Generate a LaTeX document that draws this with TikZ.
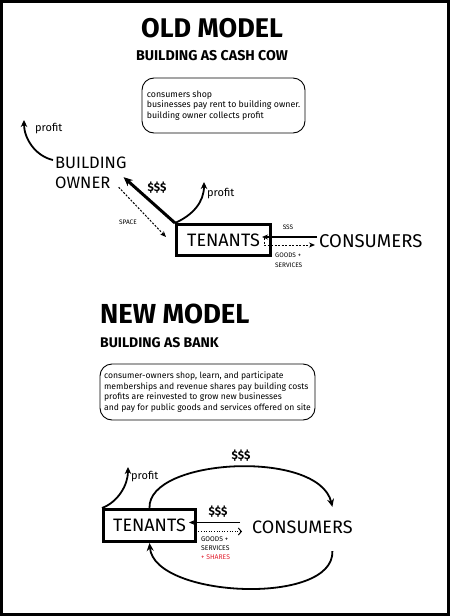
\documentclass[tikz,border=0pt]{standalone}
\usepackage{fontspec}
\setmainfont{Fira Sans}
\usetikzlibrary{arrows.meta}
\definecolor{sharered}{RGB}{225,30,45}
\newcommand{\fsz}[2]{\fontsize{#1}{#2}\selectfont}
\begin{document}
\begin{tikzpicture}[x=1pt,y=-1pt,
  titlestyle/.style={inner sep=0pt, font=\bfseries\fsz{27}{30}},
  substyle/.style={inner sep=0pt, font=\bfseries\fsz{14.2}{16}},
  notebox/.style={draw, rounded corners=12pt, line width=0.9pt, align=left, inner sep=0pt},
  bigtext/.style={inner sep=0pt, font=\fsz{16.5}{20}},
  tenbox/.style={draw, line width=2.6pt, inner sep=0pt, font=\fsz{18}{20}},
  consstyle/.style={inner sep=0pt, font=\fsz{18.5}{20}},
  profitstyle/.style={inner sep=0pt, font=\fsz{11}{12}},
  money/.style={inner sep=0pt, font=\bfseries\fsz{11.5}{13}},
  tinytext/.style={inner sep=0pt, font=\fsz{6.5}{10}},
  curvearrow/.style={line width=1.8pt, -{Stealth[length=7pt,width=6.5pt]}},
  thickarrow/.style={line width=3pt, -{Stealth[length=9pt,width=8pt]}},
  thinarrow/.style={line width=1.1pt, -{Stealth[length=6pt,width=5pt]}},
  dasharrow/.style={line width=1pt, dash pattern=on 2pt off 1.5pt, -{Stealth[length=6pt,width=5pt]}},
  dotarrow/.style={line width=1pt, dash pattern=on 1pt off 1.6pt, -{Straight Barb[length=3pt,width=7pt]}},
  loopline/.style={line width=1.8pt, -{Stealth[length=8pt,width=7pt]}}
]
\useasboundingbox (0,0) rectangle (450,616);
\draw[line width=2.6pt] (1.3,1.3) rectangle (448.7,614.7);

% ---------- OLD MODEL ----------
\node[titlestyle, anchor=base] (t1) at (212,37) {OLD MODEL};
\node[substyle, anchor=base] (s1) at (212,60) {BUILDING AS CASH COW};
\node[notebox, minimum width=163pt, minimum height=55pt, font=\fsz{8.8}{10.5}] (n1) at (223.5,105.5)
  {consumers shop\\businesses pay rent to building owner.\\building owner collects profit};

\node[bigtext, align=left, anchor=north west] (owner) at (55,157) {BUILDING\\OWNER};
\node[tenbox, minimum width=94.4pt, minimum height=31.4pt] (ten1) at (223.5,240) {TENANTS};
\node[consstyle, anchor=west] (cons1) at (319,241) {CONSUMERS};

\coordinate (p1) at (24,120);
\draw[curvearrow] ([shift={(-2,3)}]owner.north west) .. controls +(-18,-4) and +(0,18) .. (p1);
\node[profitstyle, anchor=west] (pl1) at (35,129) {profit};

\coordinate (p2) at (204,182);
\draw[curvearrow] (ten1.north west) .. controls +(18,-8) and +(0,20) .. (p2);
\node[profitstyle, anchor=west] (pl2) at (207,194) {profit};

\draw[thickarrow] (ten1.north west) -- ([shift={(-3,-12)}]owner.south east);
\node[money] (m1) at (157,188) {\$\$\$};
\draw[dasharrow] ([shift={(-8,-2)}]owner.south east) -- ([shift={(-9,14)}]ten1.north west);
\node[tinytext] (sp) at (128,222) {SPACE};

\draw[thinarrow] ([shift={(-2,-4)}]cons1.west) -- ([shift={(-10,-3)}]ten1.east);
\draw[dasharrow] ([shift={(-8,-2)}]ten1.east) |- ([shift={(-4,4)}]cons1.west);
\node[tinytext] (sss) at (288,227) {SSS};
\node[tinytext, align=left, anchor=north west] (gs1) at (275,253) {GOODS +\\SERVICES};

% ---------- NEW MODEL ----------
\node[titlestyle, font=\bfseries\fsz{27.5}{30}, anchor=base west] (t2) at (100,323) {NEW MODEL};
\node[substyle, font=\bfseries\fsz{14}{16}, anchor=base west] (s2) at (100,347) {BUILDING AS BANK};
\node[notebox, minimum width=215pt, minimum height=56pt, font=\fsz{8.6}{10.7}] (n2) at (207.5,392)
  {consumer-owners shop, learn, and participate\\memberships and revenue shares pay building costs\\profits are reinvested to grow new businesses\\and pay for public goods and services offered on site};

\node[tenbox, minimum width=92.4pt, minimum height=32.4pt] (ten2) at (149.5,525.5) {TENANTS};
\node[consstyle, font=\fsz{18}{20}, anchor=west] (cons2) at (252,527.5) {CONSUMERS};

\coordinate (p3) at (128,467);
\draw[curvearrow] (ten2.north west) .. controls +(16,-6) and +(0,18) .. (p3);
\node[profitstyle, anchor=west] (pl3) at (131,477) {profit};

\draw[loopline] (ten2.north) .. controls +(-2,-50) and +(-14,-58) .. ([shift={(30,-14)}]cons2.north);
\node[money] (m2) at (241,456) {\$\$\$};
\draw[loopline] ([shift={(30,17)}]cons2.south) .. controls +(2,55) and +(5,55) .. (ten2.south);

\draw[thinarrow] ([shift={(-12,-5)}]cons2.west) -- ([shift={(-8,-3)}]ten2.east);
\node[money] (m3) at (218,512) {\$\$\$};
\draw[dotarrow] ([shift={(-3,0)}]ten2.east) |- ([shift={(-10,4)}]cons2.west);
\node[tinytext, font=\fsz{6.8}{9}, align=left, anchor=north west] (gs2) at (201,537) {GOODS +\\SERVICES\\\textcolor{sharered}{+ SHARES}};
\end{tikzpicture}
\end{document}
